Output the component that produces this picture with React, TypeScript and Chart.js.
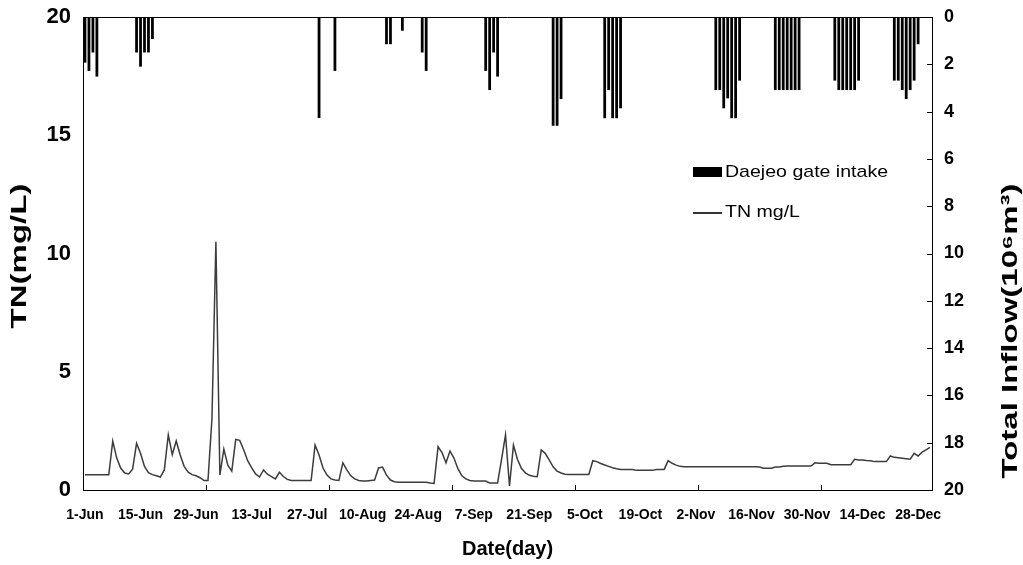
import React, { useEffect, useRef } from 'react';
import { Chart, registerables } from 'chart.js';

Chart.register(...registerables);

const MONTHS = ['Jun', 'Jul', 'Aug', 'Sep', 'Oct', 'Nov', 'Dec'];
const MONTH_DAYS = [30, 31, 31, 30, 31, 30, 31];
const TICK_LABELS = ['1-Jun', '15-Jun', '29-Jun', '13-Jul', '27-Jul', '10-Aug', '24-Aug', '7-Sep', '21-Sep', '5-Oct', '19-Oct', '2-Nov', '16-Nov', '30-Nov', '14-Dec', '28-Dec'];
const LEFT_TITLE = 'TN(mg/L)';
const RIGHT_TITLE = 'Total Inflow(10\u2076m\u00b3)';
const X_TITLE = 'Date(day)';
const BAR_LABEL = 'Daejeo gate intake';
const LINE_LABEL = 'TN mg/L';

// TN concentration (mg/L), one value per day from 1-Jun to 31-Dec
const TN = [
  0.65, 0.65, 0.65, 0.65, 0.65, 0.65, 0.65, 2.07, 1.35, 0.93,
  0.72, 0.68, 0.88, 1.97, 1.55, 1.0, 0.73, 0.65, 0.6, 0.55,
  0.85, 2.33, 1.5, 2.07, 1.48, 1.0, 0.75, 0.65, 0.6, 0.52,
  0.4, 0.4, 3.0, 10.5, 0.63, 1.73, 1.05, 0.8, 2.14, 2.1,
  1.7, 1.24, 0.95, 0.68, 0.55, 0.85, 0.67, 0.57, 0.47, 0.75,
  0.57, 0.45, 0.4, 0.4, 0.4, 0.4, 0.4, 0.4, 1.9, 1.48,
  0.93, 0.63, 0.47, 0.42, 0.4, 1.15, 0.85, 0.6, 0.47, 0.4,
  0.38, 0.38, 0.4, 0.42, 0.93, 0.97, 0.63, 0.42, 0.35, 0.33,
  0.33, 0.33, 0.33, 0.33, 0.33, 0.33, 0.33, 0.3, 0.28, 1.83,
  1.58, 1.15, 1.65, 1.35, 0.9, 0.6, 0.47, 0.4, 0.38, 0.38,
  0.38, 0.38, 0.3, 0.3, 0.3, 1.3, 2.33, 0.17, 1.9, 1.3,
  0.92, 0.72, 0.62, 0.58, 0.56, 1.69, 1.55, 1.27, 0.98, 0.8,
  0.72, 0.67, 0.66, 0.66, 0.66, 0.66, 0.66, 0.66, 1.24, 1.2,
  1.12, 1.06, 1.0, 0.94, 0.9, 0.87, 0.87, 0.87, 0.87, 0.83,
  0.83, 0.83, 0.83, 0.83, 0.87, 0.87, 0.87, 1.24, 1.13, 1.05,
  1.0, 0.98, 0.98, 0.98, 0.98, 0.98, 0.98, 0.98, 0.98, 0.98,
  0.98, 0.98, 0.98, 0.98, 0.98, 0.98, 0.98, 0.98, 0.98, 0.98,
  0.97, 0.92, 0.92, 0.92, 0.97, 0.97, 1.0, 1.01, 1.01, 1.01,
  1.01, 1.01, 1.01, 1.01, 1.15, 1.13, 1.13, 1.13, 1.07, 1.07,
  1.07, 1.07, 1.07, 1.07, 1.3, 1.27, 1.27, 1.25, 1.24, 1.2,
  1.2, 1.2, 1.2, 1.44, 1.38, 1.36, 1.34, 1.32, 1.3, 1.55,
  1.44, 1.6, 1.7, 1.8,
];

// Daejeo gate intake (10^6 m^3), one value per day from 1-Jun to 31-Dec
const INFLOW = [
  1.93, 2.28, 1.5, 2.52, 0, 0, 0, 0, 0, 0,
  0, 0, 0, 1.5, 2.1, 1.5, 1.5, 0.93, 0, 0,
  0, 0, 0, 0, 0, 0, 0, 0, 0, 0,
  0, 0, 0, 0, 0, 0, 0, 0, 0, 0,
  0, 0, 0, 0, 0, 0, 0, 0, 0, 0,
  0, 0, 0, 0, 0, 0, 0, 0, 0, 4.27,
  0, 0, 0, 2.28, 0, 0, 0, 0, 0, 0,
  0, 0, 0, 0, 0, 0, 1.15, 1.15, 0, 0,
  0.58, 0, 0, 0, 0, 1.5, 2.28, 0, 0, 0,
  0, 0, 0, 0, 0, 0, 0, 0, 0, 0,
  0, 2.28, 3.09, 1.5, 2.52, 0, 0, 0, 0, 0,
  0, 0, 0, 0, 0, 0, 0, 0, 4.6, 4.6,
  3.47, 0, 0, 0, 0, 0, 0, 0, 0, 0,
  0, 4.28, 3.09, 4.28, 4.28, 3.86, 0, 0, 0, 0,
  0, 0, 0, 0, 0, 0, 0, 0, 0, 0,
  0, 0, 0, 0, 0, 0, 0, 0, 0, 3.09,
  3.09, 3.86, 3.44, 4.28, 4.28, 2.69, 0, 0, 0, 0,
  0, 0, 0, 0, 3.09, 3.09, 3.09, 3.09, 3.09, 3.09,
  3.09, 0, 0, 0, 0, 0, 0, 0, 0, 2.69,
  3.09, 3.09, 3.09, 3.09, 3.09, 2.69, 0, 0, 0, 0,
  0, 0, 0, 0, 2.69, 2.69, 3.09, 3.47, 3.09, 2.69,
  1.15, 0, 0, 0,
];

const CATEGORIES: string[] = [];
MONTHS.forEach((m, mi) => {
  for (let d = 1; d <= MONTH_DAYS[mi]; d++) CATEGORIES.push(`${d}-${m}`);
});

const FONT = '"Liberation Sans", Arial, sans-serif';

const decorations = {
  id: 'decorations',
  afterDraw(chart: any) {
    const { ctx, chartArea: ca, scales } = chart;
    ctx.save();
    ctx.strokeStyle = '#000';
    ctx.lineWidth = 1;
    // top border of plot box
    ctx.beginPath();
    ctx.moveTo(ca.left, Math.round(ca.top) + 0.5);
    ctx.lineTo(ca.right, Math.round(ca.top) + 0.5);
    ctx.stroke();
    // x tick marks every 31 categories
    const xs = scales.x;
    for (let k = 31; k < CATEGORIES.length; k += 31) {
      const px = Math.round((xs.getPixelForValue(k - 1) + xs.getPixelForValue(k)) / 2) + 0.5;
      ctx.beginPath();
      ctx.moveTo(px, ca.bottom);
      ctx.lineTo(px, ca.bottom - 5);
      ctx.stroke();
    }
    // right axis inner tick marks
    const y1 = scales.y1;
    for (let v = 0; v <= 20; v += 2) {
      const py = Math.round(y1.getPixelForValue(v)) + 0.5;
      ctx.beginPath();
      ctx.moveTo(ca.right - 5, py);
      ctx.lineTo(ca.right, py);
      ctx.stroke();
    }
    // rotated titles (stretched along their length as in the reference)
    ctx.fillStyle = '#000';
    ctx.textAlign = 'center';
    ctx.textBaseline = 'middle';
    ctx.font = `bold 22px ${FONT}`;
    ctx.save();
    ctx.translate(20, 256);
    ctx.rotate(-Math.PI / 2);
    ctx.scale(1.5, 1);
    ctx.fillText(LEFT_TITLE, 0, 0);
    ctx.restore();
    ctx.save();
    ctx.translate(1011, 331);
    ctx.rotate(-Math.PI / 2);
    ctx.scale(1.5, 1);
    ctx.fillText(RIGHT_TITLE, 0, 0);
    ctx.restore();
    ctx.restore();
  },
};

export default function App() {
  const canvasRef = useRef<HTMLCanvasElement>(null);

  useEffect(() => {
    if (!canvasRef.current) return;
    const chart = new Chart(canvasRef.current, {
      type: 'bar',
      data: {
        labels: CATEGORIES,
        datasets: [
          {
            type: 'line',
            label: LINE_LABEL,
            data: TN,
            yAxisID: 'y',
            borderColor: '#3c3c3c',
            borderWidth: 1.5,
            pointRadius: 0,
            tension: 0,
            fill: false,
          } as any,
          {
            type: 'bar',
            label: BAR_LABEL,
            data: INFLOW,
            yAxisID: 'y1',
            backgroundColor: '#000',
            borderWidth: 0,
            barPercentage: 0.7,
            categoryPercentage: 1.0,
          },
        ],
      },
      options: {
        animation: false,
        responsive: true,
        maintainAspectRatio: false,
        layout: { padding: { top: 17, left: 0, right: 0, bottom: 0 } },
        plugins: {
          legend: { display: false },
          tooltip: { enabled: false },
        },
        scales: {
          x: {
            type: 'category',
            offset: true,
            grid: { display: false, drawTicks: false },
            border: { display: true, color: '#000', width: 1 },
            ticks: {
              autoSkip: false,
              maxRotation: 0,
              minRotation: 0,
              padding: 17,
              color: '#000',
              font: { family: FONT, size: 14, weight: 'bold' },
              callback: (_v: any, index: number) => (index % 14 === 0 ? TICK_LABELS[index / 14] : null),
            },
            title: {
              display: true,
              text: X_TITLE,
              color: '#000',
              font: { family: FONT, size: 20, weight: 'bold' },
              padding: { top: 4, bottom: 4 },
            },
            afterFit: (s: any) => { s.height = 75; s.paddingLeft = 0; s.paddingRight = 0; },
          },
          y: {
            position: 'left',
            min: 0,
            max: 20,
            grid: { display: false, drawTicks: false },
            border: { display: true, color: '#000', width: 1 },
            ticks: {
              stepSize: 5,
              padding: 12,
              color: '#000',
              font: { family: FONT, size: 22, weight: 'bold' },
            },
            afterFit: (s: any) => { s.width = 83; s.paddingTop = 0; s.paddingBottom = 0; },
          },
          y1: {
            position: 'right',
            min: 0,
            max: 20,
            reverse: true,
            grid: { display: false, drawTicks: false },
            border: { display: true, color: '#000', width: 1 },
            ticks: {
              stepSize: 2,
              padding: 12,
              color: '#000',
              font: { family: FONT, size: 18, weight: 'bold' },
            },
            afterFit: (s: any) => { s.width = 91; s.paddingTop = 0; s.paddingBottom = 0; },
          },
        },
      },
      plugins: [decorations],
    });
    return () => chart.destroy();
  }, []);

  const textStyle: React.CSSProperties = {
    position: 'absolute',
    left: 725,
    fontSize: 17,
    lineHeight: '22px',
    color: '#000',
    whiteSpace: 'nowrap',
    transform: 'scaleX(1.15)',
    transformOrigin: 'left center',
  };

  return (
    <div style={{ position: 'fixed', left: 0, top: 0, width: 1023, height: 565, background: '#fff', fontFamily: FONT }}>
      <canvas ref={canvasRef} />
      <div style={{ position: 'absolute', left: 693, top: 167, width: 29, height: 10, background: '#000' }} />
      <div style={{ ...textStyle, top: 161 }}>{BAR_LABEL}</div>
      <div style={{ position: 'absolute', left: 693, top: 212, width: 29, height: 1.5, background: '#333' }} />
      <div style={{ ...textStyle, top: 201 }}>{LINE_LABEL}</div>
    </div>
  );
}
